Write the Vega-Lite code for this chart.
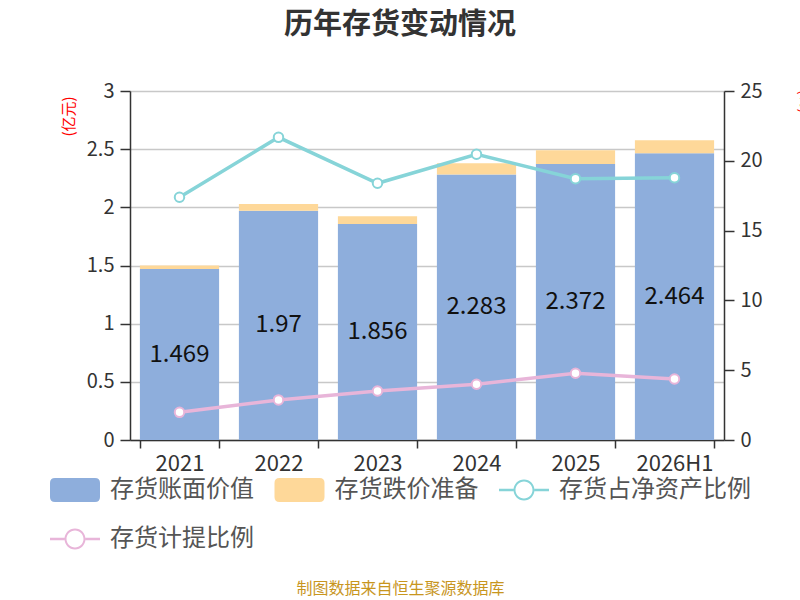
{
  "$schema": "https://vega.github.io/schema/vega-lite/v6.json",
  "width": 594,
  "height": 349,
  "autosize": "none",
  "padding": {"left": 130, "top": 91, "right": 76, "bottom": 160},
  "background": "white",
  "config": {
    "font": "Noto Sans CJK SC",
    "view": {"stroke": null}
  },
  "title": {
    "text": "历年存货变动情况",
    "fontSize": 29,
    "fontWeight": "bold",
    "color": "#333333",
    "anchor": "middle",
    "dx": -27,
    "offset": 41
  },
  "datasets": {
    "bars": [
      {"year": "2021", "series": "存货账面价值", "value": 1.469, "o": 1},
      {"year": "2021", "series": "存货跌价准备", "value": 0.03, "o": 2},
      {"year": "2022", "series": "存货账面价值", "value": 1.97, "o": 1},
      {"year": "2022", "series": "存货跌价准备", "value": 0.058, "o": 2},
      {"year": "2023", "series": "存货账面价值", "value": 1.856, "o": 1},
      {"year": "2023", "series": "存货跌价准备", "value": 0.068, "o": 2},
      {"year": "2024", "series": "存货账面价值", "value": 2.283, "o": 1},
      {"year": "2024", "series": "存货跌价准备", "value": 0.095, "o": 2},
      {"year": "2025", "series": "存货账面价值", "value": 2.372, "o": 1},
      {"year": "2025", "series": "存货跌价准备", "value": 0.119, "o": 2},
      {"year": "2026H1", "series": "存货账面价值", "value": 2.464, "o": 1},
      {"year": "2026H1", "series": "存货跌价准备", "value": 0.113, "o": 2}
    ],
    "lines": [
      {"year": "2021", "series": "存货占净资产比例", "value": 17.39},
      {"year": "2022", "series": "存货占净资产比例", "value": 21.68},
      {"year": "2023", "series": "存货占净资产比例", "value": 18.39},
      {"year": "2024", "series": "存货占净资产比例", "value": 20.47},
      {"year": "2025", "series": "存货占净资产比例", "value": 18.72},
      {"year": "2026H1", "series": "存货占净资产比例", "value": 18.79},
      {"year": "2021", "series": "存货计提比例", "value": 1.98},
      {"year": "2022", "series": "存货计提比例", "value": 2.87},
      {"year": "2023", "series": "存货计提比例", "value": 3.51},
      {"year": "2024", "series": "存货计提比例", "value": 3.99},
      {"year": "2025", "series": "存货计提比例", "value": 4.78},
      {"year": "2026H1", "series": "存货计提比例", "value": 4.37}
    ]
  },
  "encoding": {
    "x": {
      "field": "year",
      "type": "ordinal",
      "sort": null,
      "scale": {"paddingInner": 0.2, "paddingOuter": 0.1},
      "axis": {
        "title": "制图数据来自恒生聚源数据库",
        "labelAngle": 0,
        "labelFontSize": 22,
        "labelColor": "#333333",
        "labelPadding": 5,
        "tickBand": "extent",
        "tickSize": 8,
        "tickColor": "#333333",
        "tickWidth": 1.5,
        "domainColor": "#333333",
        "domainWidth": 1.5,
        "titleFontSize": 16,
        "titleColor": "#c8961e",
        "titleFontWeight": "normal",
        "titleX": 270,
        "titleY": 148,
        "titleAlign": "center",
        "titleBaseline": "middle"
      }
    }
  },
  "layer": [
    {
      "data": {"name": "bars"},
      "layer": [
        {
          "mark": {"type": "bar"},
          "encoding": {
            "y": {
              "field": "value",
              "type": "quantitative",
              "stack": "zero",
              "scale": {"domain": [0, 3], "nice": false},
              "axis": {
                "title": "(亿元)",
                "values": [0, 0.5, 1, 1.5, 2, 2.5, 3],
                "format": "~g",
                "labelFontSize": 20,
                "labelColor": "#333333",
                "labelPadding": 6,
                "tickSize": 10,
                "tickColor": "#333333",
                "tickWidth": 1.5,
                "domainColor": "#333333",
                "domainWidth": 1.5,
                "grid": true,
                "gridColor": "#c8c8c8",
                "gridWidth": 1.5,
                "titleColor": "#ff0000",
                "titleFontSize": 15,
                "titleFontWeight": "normal",
                "titleX": -62,
                "titleY": 25,
                "titleAngle": -90,
                "titleAlign": "center",
                "titleBaseline": "middle"
              }
            },
            "color": {
              "field": "series",
              "type": "nominal",
              "scale": {
                "domain": ["存货账面价值", "存货跌价准备", "存货占净资产比例", "存货计提比例"],
                "range": ["#8eaedc", "#fed899", "#86d4d8", "#e8b5d9"]
              },
              "legend": {
                "title": null,
                "orient": "none",
                "legendX": -80,
                "legendY": 374,
                "direction": "horizontal",
                "columns": 3,
                "columnPadding": 20.5,
                "rowPadding": 12,
                "symbolSize": 2500,
                "labelFontSize": 24,
                "labelColor": "#555555",
                "labelOffset": 10,
                "labelLimit": 300,
                "encode": {
                  "symbols": {
                    "update": {
                      "shape": {"signal": "(datum.value == '存货账面价值' || datum.value == '存货跌价准备') ? 'M-0.8,-0.48H0.8Q1,-0.48,1,-0.28V0.28Q1,0.48,0.8,0.48H-0.8Q-1,0.48,-1,0.28V-0.28Q-1,-0.48,-0.8,-0.48Z' : 'M-1,-0.05H-0.42V0.05H-1Z M0.42,-0.05H1V0.05H0.42Z M-0.42,0A0.42,0.42,0,1,0,0.42,0A0.42,0.42,0,1,0,-0.42,0Z M-0.34,0A0.34,0.34,0,1,1,0.34,0A0.34,0.34,0,1,1,-0.34,0Z'"},
                      "fill": {"scale": "color", "field": "value"},
                      "stroke": {"value": "transparent"},
                      "strokeWidth": {"value": 0},
                      "opacity": {"value": 1}
                    }
                  }
                }
              }
            },
            "order": {"field": "o", "type": "quantitative"}
          }
        },
        {
          "transform": [{"filter": "datum.o == 1"}],
          "mark": {"type": "text", "fontSize": 24, "color": "#111111"},
          "encoding": {
            "y": {"field": "value", "type": "quantitative", "stack": "zero", "bandPosition": 0.5},
            "text": {"field": "value", "type": "quantitative"}
          }
        }
      ]
    },
    {
      "data": {"name": "lines"},
      "layer": [
        {
          "mark": {"type": "line", "strokeWidth": 3.5},
          "encoding": {
            "y": {
              "field": "value",
              "type": "quantitative",
              "scale": {"domain": [0, 25], "nice": false},
              "axis": {
                "orient": "right",
                "title": "(%)",
                "values": [0, 5, 10, 15, 20, 25],
                "grid": false,
                "labelFontSize": 20,
                "labelColor": "#333333",
                "labelPadding": 6,
                "tickSize": 10,
                "tickColor": "#333333",
                "tickWidth": 1.5,
                "domainColor": "#333333",
                "domainWidth": 1.5,
                "titleColor": "#ff0000",
                "titleFontSize": 15,
                "titleFontWeight": "normal",
                "titleX": 80,
                "titleY": 10,
                "titleAngle": 90,
                "titleAlign": "center",
                "titleBaseline": "middle"
              }
            },
            "color": {"field": "series", "type": "nominal"}
          }
        },
        {
          "mark": {"type": "point", "filled": false, "fill": "white", "size": 90, "strokeWidth": 2, "opacity": 1},
          "encoding": {
            "y": {"field": "value", "type": "quantitative"},
            "color": {"field": "series", "type": "nominal"}
          }
        }
      ]
    }
  ],
  "resolve": {"scale": {"y": "independent"}}
}
